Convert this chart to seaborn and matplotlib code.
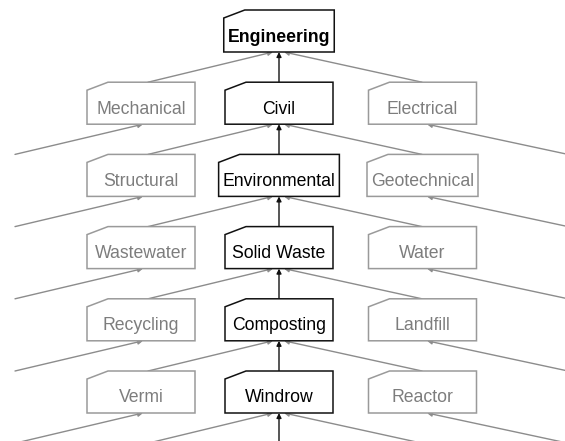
import matplotlib
matplotlib.use("Agg")
import matplotlib.pyplot as plt
import seaborn as sns
from matplotlib.patches import Polygon

sns.set_theme(style="white")
plt.rcParams['font.family'] = ['Liberation Sans', 'DejaVu Sans']

# Node labels per column (top to bottom)
middle_labels = ["Engineering", "Civil", "Environmental", "Solid Waste", "Composting", "Windrow"]
left_labels = ["Mechanical", "Structural", "Wastewater", "Recycling", "Vermi"]
right_labels = ["Electrical", "Geotechnical", "Water", "Landfill", "Reactor"]

W, H = 565, 441
fig = plt.figure(figsize=(W / 100, H / 100), dpi=100)
ax = fig.add_axes([0, 0, 1, 1])
ax.set_xlim(0, W)
ax.set_ylim(H, 0)
ax.axis("off")
renderer = fig.canvas.get_renderer()

BOX_W, BOX_H = 108, 42
CLIP_W, CLIP_H = 21, 8
ROW0, ROW_STEP = 10, 72.2
XC = {"left": 141, "mid": 279, "right": 422.5}
ATTACH = {"left": 148, "mid": 279, "right": 422}
FS = 12.7

GREY_LINE = "#8c8c8c"
GREY_EDGE = "#9a9a9a"
GREY_TEXT = "#7d7d7d"
DARK = "#111111"


def top(i):
    return ROW0 + ROW_STEP * i


def box(xc, t, label, edge, tcolor, bold=False):
    txt = ax.text(xc, t + 27, label, ha="center", va="center", fontsize=FS,
                  color=tcolor, fontweight="bold" if bold else "normal", zorder=4)
    tw = txt.get_window_extent(renderer).width
    bw = max(BOX_W, tw + 8)
    x0, x1 = xc - bw / 2, xc + bw / 2
    b = t + BOX_H
    pts = [(x0, t + CLIP_H), (x0 + CLIP_W, t), (x1, t), (x1, b), (x0, b)]
    ax.add_patch(Polygon(pts, closed=True, facecolor="white", edgecolor=edge,
                         lw=1.1, zorder=3))


def arrow(x0, y0, x1, y1, color):
    ax.annotate("", xy=(x1, y1), xytext=(x0, y0), zorder=2,
                arrowprops=dict(arrowstyle="-|>", color=color, lw=1.0,
                                mutation_scale=7, shrinkA=0, shrinkB=0))


for i, lab in enumerate(middle_labels):
    t = top(i)
    b = t + BOX_H
    tc = top(i + 1)
    box(XC["mid"], t, lab, DARK, "black", bold=(i == 0))
    arrow(ATTACH["left"], tc, 273, b, GREY_LINE)
    arrow(ATTACH["right"], tc, 284, b, GREY_LINE)
    arrow(ATTACH["mid"], tc, 279, b, DARK)

for i, lab in enumerate(left_labels, start=1):
    t = top(i)
    box(XC["left"], t, lab, GREY_EDGE, GREY_TEXT)
    arrow(15, top(i + 1), 143, t + BOX_H, GREY_LINE)

for i, lab in enumerate(right_labels, start=1):
    t = top(i)
    box(XC["right"], t, lab, GREY_EDGE, GREY_TEXT)
    arrow(568, top(i + 1), 427, t + BOX_H, GREY_LINE)

fig.savefig("out.png", dpi=100)
